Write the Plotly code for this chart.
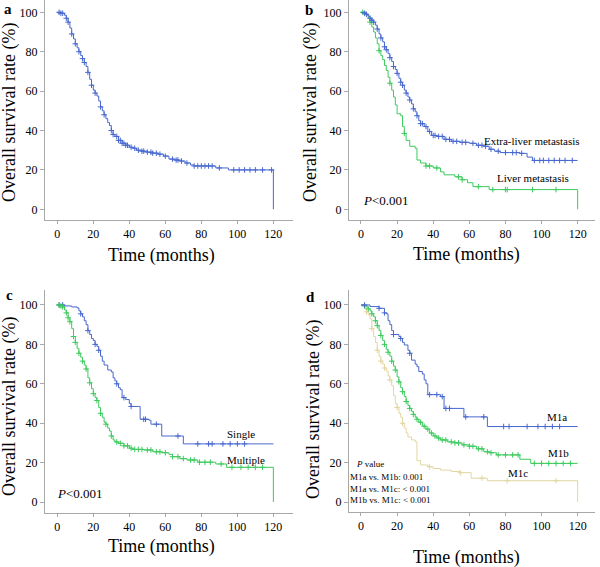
import numpy as np
import plotly.graph_objects as go

# ---------------- data (months, survival %) ----------------
tick_vals_x = [0, 20, 40, 60, 80, 100, 120]
tick_vals_y = [0, 20, 40, 60, 80, 100]

# Panel a: overall
t_a = [0, 2, 4, 5, 6, 7, 8, 9, 10, 11, 12, 13, 14, 15, 16, 17, 18, 19, 20, 21, 22, 23, 24, 25, 26, 27, 28, 29, 30, 31,
       32, 34, 36, 38, 40, 42, 44, 47, 50, 53, 56, 59, 62, 65, 68, 71, 74, 76, 88, 95, 120, 120]
s_a = [100, 99.5, 98.5, 97, 95, 92, 89, 86.5, 84, 82, 80, 78, 76.5, 74.5, 72.5, 69.5, 66, 63, 60.5, 59, 57.5, 55, 52, 50,
       48, 46, 44, 42.5, 40, 38, 37, 35, 33.5, 32.5, 31.5, 31, 30, 29.5, 29, 28.5, 28, 27, 25.5, 25, 24.5, 23.5, 22.5,
       22, 21, 20, 20, 0]
c_a = [1, 2, 3, 5, 6, 8, 10, 12, 14, 15, 17, 19, 21, 24, 26, 30, 31, 33, 34, 35, 36, 37, 38, 39, 41, 43, 45, 47, 48,
       50, 52, 53, 55, 57, 60, 64, 66, 67, 69, 72, 76, 78, 80, 82, 84, 86, 90, 98, 101, 104, 107, 110, 114, 119]

# Panel b: extra-liver vs liver metastasis
t_b_extra = [0, 2, 3, 4, 5, 6, 7, 8, 9, 10, 11, 12, 13, 14, 15, 16, 17, 18, 19, 20, 21, 22, 23, 24, 25, 26, 27, 28, 29,
             30, 31, 32, 33, 35, 37, 39, 42, 46, 50, 55, 60, 64, 68, 71, 74, 77, 88, 92, 95, 120]
s_b_extra = [100, 99.5, 99, 98, 97, 96, 95, 93.5, 91.5, 89, 87, 85, 82.5, 81, 79, 77, 75, 72.5, 71, 69, 66.5, 64.5, 63,
             60.5, 59, 57, 55.5, 53.5, 51, 49.5, 47.5, 45, 43.5, 42, 39.5, 37.5, 37, 35.5, 34.5, 34, 33.5, 32.5, 32,
             30.5, 29.5, 28.8, 28.4, 26.5, 24.8, 24.8]
c_b_extra = [2, 3, 5, 6, 7, 9, 11, 13, 14, 16, 18, 20, 22, 23, 25, 27, 29, 31, 33, 34, 36, 38, 40, 41, 43, 45, 47, 49,
             51, 53, 56, 58, 62, 65, 67, 69, 72, 76, 80, 84, 86, 89, 96, 99, 101, 104, 107, 110, 113, 117]
t_b_liver = [0, 3, 4, 5, 6, 7, 8, 9, 10, 11, 12, 13, 14, 15, 16, 17, 18, 19, 20, 22, 23, 24, 25, 27, 30, 31, 33, 36, 40,
             44, 46, 52, 56, 59, 62, 71, 120, 120]
s_b_liver = [100, 98.5, 97, 95, 92.5, 90, 87, 84, 80.5, 78, 76, 73, 70.5, 67, 64, 60.5, 57, 53, 48.5, 47.5, 42, 38.5,
             35, 32, 31, 25, 23.5, 22, 21, 19, 17.5, 16.5, 15, 13.5, 11.5, 10, 10, 0]
c_b_liver = [1, 5, 10, 16, 24, 36, 38, 42, 54, 56, 65, 73, 80, 81, 95, 108]

# Panel c: single vs multiple
t_c_single = [0, 4, 8, 11, 12, 13, 14, 15, 16, 17, 18, 19, 20, 21, 22, 23, 24, 25, 26, 28, 30, 31, 32, 33, 34, 35, 36,
              38, 40, 41, 45, 46, 51, 52, 58, 69, 70, 120]
s_c_single = [100, 99.5, 99, 98.5, 97, 95.5, 94, 92, 90, 87, 85, 83, 82, 80, 79, 77, 74, 71.5, 69.5, 67, 66, 63, 61.5,
              60, 58, 57, 53, 52, 50, 48.5, 48.5, 42, 41.5, 39.5, 33.5, 33.5, 29.5, 29.5]
c_c_single = [1, 3, 13, 17, 21, 23, 33, 37, 41, 48, 49, 55, 67, 78, 84, 86, 92, 96, 100, 104]
t_c_multi = [0, 2, 3, 4, 5, 6, 7, 8, 9, 10, 11, 12, 13, 14, 15, 16, 17, 18, 19, 20, 21, 22, 23, 24, 25, 26, 27, 28, 29,
             30, 31, 32, 34, 37, 40, 42, 48, 53, 58, 62, 64, 68, 72, 78, 88, 94, 120, 120]
s_c_multi = [100, 99.5, 99, 97.5, 96, 93.5, 91.5, 88, 84, 81, 78, 75.5, 73.5, 71.5, 69.5, 67.5, 63, 60.5, 57.5, 55, 53,
             51.5, 48, 45, 43, 40.5, 39.5, 37.5, 36, 33.5, 31.5, 30.5, 29.8, 28.5, 27.3, 26.7, 26.4, 25.5, 25, 24.2,
             23, 22, 21.3, 20.2, 19.3, 17.6, 17.6, 0]
c_c_multi = [1, 2, 3, 5, 6, 7, 9, 10, 12, 14, 16, 18, 20, 22, 24, 27, 30, 33, 35, 37, 39, 41, 43, 45, 47, 50, 52, 55,
             57, 60, 64, 67, 70, 74, 76, 79, 82, 85, 91, 97, 102, 106, 110, 114]

# Panel d: M1a / M1b / M1c
t_d_m1a = [0, 5, 10, 13, 14, 15, 16, 17, 18, 21, 22, 23, 24, 26, 27, 28, 30, 31, 32, 34, 35, 36, 37, 44, 46, 57, 70, 120]
s_d_m1a = [100, 99.2, 98.3, 96, 95.5, 92, 90, 87, 85, 84, 83, 81, 79.7, 77, 75.5, 72, 70, 68.7, 66.2, 65, 62, 60, 54.5,
           53.5, 47.5, 43.2, 38.3, 38.3]
c_d_m1a = [2, 10, 13, 18, 22, 27, 38, 42, 45, 47, 49, 58, 68, 79, 82, 92, 98, 102, 106, 110]
t_d_m1b = [0, 2, 3, 4, 5, 6, 7, 8, 9, 10, 11, 12, 13, 14, 15, 16, 17, 18, 19, 20, 21, 22, 23, 24, 25, 26, 27, 28, 29, 30,
           31, 32, 34, 36, 38, 40, 42, 44, 48, 52, 56, 60, 64, 68, 71, 75, 88, 94, 120]
s_d_m1b = [100, 99.5, 99, 98, 97, 95.5, 94, 92, 89.5, 87, 84.5, 82, 80, 77.5, 76, 74, 71.5, 69, 67, 63.5, 61, 58, 56,
           53.5, 51, 49, 47.5, 46, 44.5, 43, 42, 40.5, 38.5, 37, 35, 33.5, 32.5, 31.5, 30.5, 30, 29, 28.3, 27, 25.5,
           25, 23.9, 21.7, 19.6, 19.6]
c_d_m1b = [2, 4, 6, 8, 9, 11, 13, 15, 17, 19, 21, 23, 25, 27, 29, 31, 33, 35, 37, 39, 41, 43, 45, 47, 50, 52, 54, 57,
           60, 62, 65, 67, 70, 72, 76, 80, 84, 87, 96, 100, 104, 108, 112, 116]
t_d_m1c = [0, 2, 3, 4, 5, 6, 7, 8, 9, 10, 11, 12, 13, 14, 15, 16, 17, 18, 19, 20, 21, 22, 23, 24, 25, 26, 28, 30, 31,
           33, 37, 40, 44, 50, 55, 61, 70, 120, 120]
s_d_m1c = [100, 98.5, 96.5, 95, 93, 88, 84, 81, 77, 74, 71.5, 70, 68, 66.5, 64, 62, 59, 54, 50, 48, 45, 43, 40, 37.5,
           35, 33, 31.5, 30.6, 21, 18.8, 17.9, 17, 16.2, 15.5, 14.9, 12.1, 10.8, 10.8, 0]
c_d_m1c = [3, 6, 9, 11, 13, 16, 20, 23, 38, 55, 67, 81, 108]

# ---------------- styling ----------------
W, H = 600, 567
BLUE = "#4868cf"
GREEN = "#3dca5e"
TAN = "#e2d6a0"
AXC = "#a8a8a8"
SERIF = "Liberation Serif"


def step_at(t, s, c):
    t = np.asarray(t, float)
    s = np.asarray(s, float)
    idx = np.searchsorted(t, np.asarray(c, float), side="right") - 1
    return s[idx]


fig = go.Figure()


def add_curve(t, s, c, color, xa, ya):
    fig.add_trace(go.Scatter(x=t, y=s, mode="lines", line=dict(color=color, width=1, shape="hv"),
                             xaxis=xa, yaxis=ya, hoverinfo="skip"))
    fig.add_trace(go.Scatter(x=c, y=step_at(t, s, c), mode="markers",
                             marker=dict(symbol="cross-thin", size=4, line=dict(color=color, width=1)),
                             xaxis=xa, yaxis=ya, hoverinfo="skip"))


add_curve(t_a, s_a, c_a, BLUE, "x", "y")
add_curve(t_b_liver, s_b_liver, c_b_liver, GREEN, "x2", "y2")
add_curve(t_b_extra, s_b_extra, c_b_extra, BLUE, "x2", "y2")
add_curve(t_c_single, s_c_single, c_c_single, BLUE, "x3", "y3")
add_curve(t_c_multi, s_c_multi, c_c_multi, GREEN, "x3", "y3")
add_curve(t_d_m1c, s_d_m1c, c_d_m1c, TAN, "x4", "y4")
add_curve(t_d_m1b, s_d_m1b, c_d_m1b, GREEN, "x4", "y4")
add_curve(t_d_m1a, s_d_m1a, c_d_m1a, BLUE, "x4", "y4")


def xax(dom, rng, anchor):
    return dict(domain=dom, range=rng, anchor=anchor, showline=True, linecolor=AXC, linewidth=1,
                ticks="outside", ticklen=3, tickcolor=AXC, showgrid=False, zeroline=False,
                tickvals=tick_vals_x, tickfont=dict(family=SERIF, size=12, color="black"))


def yax(dom, rng, anchor):
    return dict(domain=dom, range=rng, anchor=anchor, showline=True, linecolor=AXC, linewidth=1,
                ticks="outside", ticklen=4, tickcolor=AXC, showgrid=False, zeroline=False,
                tickvals=tick_vals_y, tickfont=dict(family=SERIF, size=12, color="black"))


xl = [45 / W, 293 / W]
xr = [349 / W, 595 / W]
yt = [1 - 220 / H, 1.0]
yb_c = [1 - 512.7 / H, 1 - 290 / H]
yb_d = [1 - 511.7 / H, 1 - 290 / H]

fig.update_layout(
    width=W, height=H, margin=dict(l=0, r=0, t=0, b=0),
    paper_bgcolor="white", plot_bgcolor="white", showlegend=False,
    xaxis=xax(xl, [-6.83, 130.9], "y"), yaxis=yax(yt, [-5.43, 106.25], "x"),
    xaxis2=xax(xr, [-6.64, 129.6], "y2"), yaxis2=yax(yt, [-5.43, 106.25], "x2"),
    xaxis3=xax(xl, [-6.83, 130.9], "y3"), yaxis3=yax(yb_c, [-5.43, 107.6], "x3"),
    xaxis4=xax(xr, [-6.64, 129.6], "y4"), yaxis4=yax(yb_d, [-4.92, 107.6], "x4"),
)

ann = []


def ptext(x, y, text, size, **kw):
    d = dict(x=x / W, y=1 - y / H, xref="paper", yref="paper", text=text, showarrow=False,
             font=dict(family=SERIF, size=size, color="black"), xanchor="center", yanchor="middle")
    d.update(kw)
    ann.append(d)


def dtext(xa, ya, x, y, text, size, **kw):
    d = dict(x=x, y=y, xref=xa, yref=ya, text=text, showarrow=False,
             font=dict(family=SERIF, size=size, color="black"), xanchor="center", yanchor="middle")
    d.update(kw)
    ann.append(d)


# panel letters
ptext(8, 9, "<b>a</b>", 15)
ptext(309, 10, "<b>b</b>", 15)
ptext(9, 295, "<b>c</b>", 15)
ptext(310, 297, "<b>d</b>", 15)

# axis titles
for cx, cy in [(161.7, 255), (466.7, 254), (161.7, 546), (466.7, 557)]:
    ptext(cx, cy, "Time (months)", 18)
for cx, cy in [(10, 113), (311, 113), (9, 407), (313, 409)]:
    ptext(cx, cy, "Overall survival rate (%)", 18, textangle=-90)

# in-plot labels
dtext("x2", "y2", 94.7, 34.7, "Extra-liver metastasis", 11)
dtext("x2", "y2", 95.2, 15.9, "Liver metastasis", 11)
dtext("x2", "y2", 0, 4.7, "<i>P</i>&lt;0.001", 13, xanchor="left")

dtext("x3", "y3", 102, 34.5, "Single", 11)
dtext("x3", "y3", 104.8, 21.3, "Multiple", 11)
dtext("x3", "y3", -1.3, 4.1, "<i>P</i>&lt;0.001", 13, xanchor="left")

dtext("x4", "y4", 108.5, 43.1, "M1a", 11)
dtext("x4", "y4", 109.4, 24.9, "M1b", 11)
dtext("x4", "y4", 86.9, 14.7, "M1c", 11)
ptext(354, 464, "<i>P</i> value", 9, xanchor="left")
ptext(348, 477, "M1a vs. M1b: 0.001", 9, xanchor="left")
ptext(348, 488.5, "M1a vs. M1c: &lt; 0.001", 9, xanchor="left")
ptext(348, 500, "M1b vs. M1c: &lt; 0.001", 9, xanchor="left")

fig.update_layout(annotations=ann)
fig.write_html("out.html", config={"displayModeBar": False},
               post_script="document.body.style.margin='0';document.body.style.padding='0';")
